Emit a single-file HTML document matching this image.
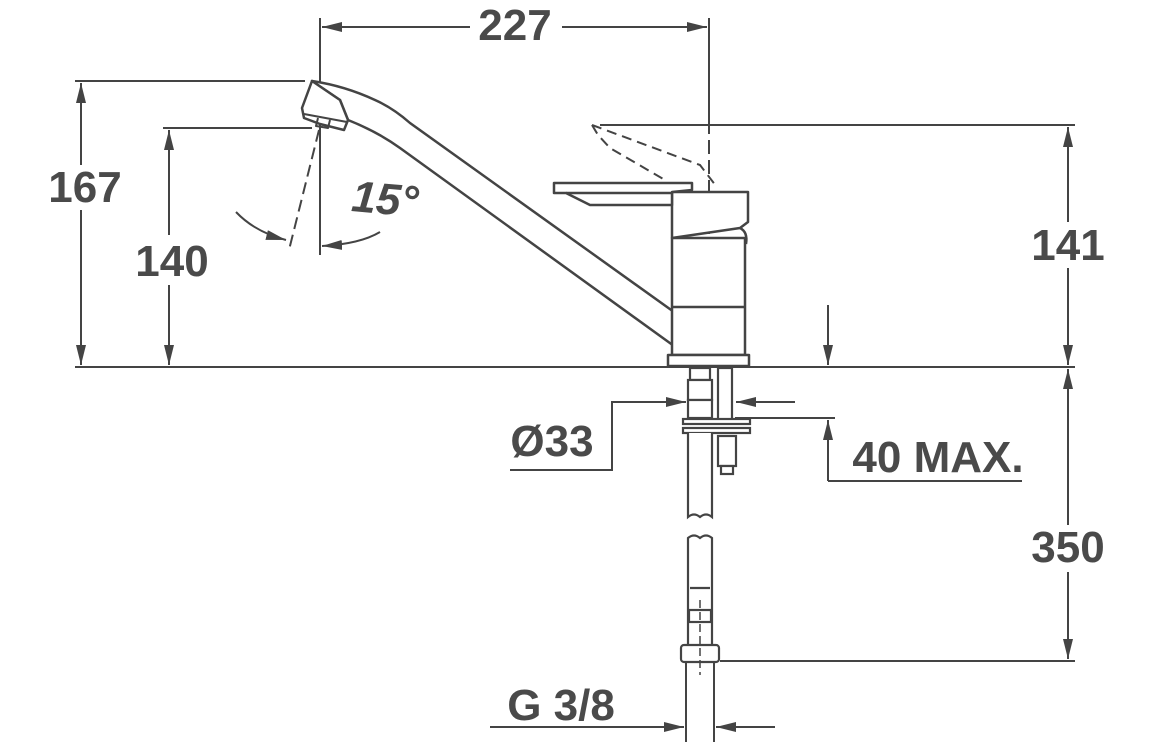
<!DOCTYPE html>
<html><head><meta charset="utf-8"><style>
html,body{margin:0;padding:0;background:#fff;}
svg{display:block}
text{font-family:"Liberation Sans Narrow","Liberation Sans",sans-serif;font-weight:bold;fill:#4a4a4a;font-size:44px;}
</style></head><body>
<svg width="1156" height="742" viewBox="0 0 1156 742" xmlns="http://www.w3.org/2000/svg">
<defs>
<marker id="a" viewBox="0 0 20 10" refX="20" refY="5" markerWidth="20" markerHeight="10" markerUnits="userSpaceOnUse" orient="auto"><path d="M0,0 L20,5 L0,10 z" fill="#444"/></marker>
</defs>
<g stroke="#444" stroke-width="2" fill="none">
<line x1="75" y1="367" x2="1075" y2="367"/>
<line x1="320" y1="18" x2="320" y2="255"/>
<line x1="709" y1="18" x2="709" y2="120"/>
<line x1="709" y1="120" x2="709" y2="350" stroke-dasharray="14,6"/>
<line x1="470" y1="27" x2="322" y2="27" marker-end="url(#a)"/>
<line x1="562" y1="27" x2="707" y2="27" marker-end="url(#a)"/>
<line x1="75" y1="81" x2="305" y2="81"/>
<line x1="81" y1="165" x2="81" y2="83" marker-end="url(#a)"/>
<line x1="81" y1="210" x2="81" y2="365" marker-end="url(#a)"/>
<line x1="163" y1="128" x2="312" y2="128"/>
<line x1="169" y1="235" x2="169" y2="130" marker-end="url(#a)"/>
<line x1="169" y1="285" x2="169" y2="365" marker-end="url(#a)"/>
<line x1="600" y1="125" x2="1075" y2="125"/>
<line x1="1068" y1="222" x2="1068" y2="127" marker-end="url(#a)"/>
<line x1="1068" y1="268" x2="1068" y2="365" marker-end="url(#a)"/>
<line x1="720" y1="661" x2="1075" y2="661"/>
<line x1="1068" y1="525" x2="1068" y2="369" marker-end="url(#a)"/>
<line x1="1068" y1="572" x2="1068" y2="659" marker-end="url(#a)"/>
<polyline points="510,470 612,470 612,402 686,402" marker-end="url(#a)"/>
<line x1="795" y1="402" x2="736" y2="402" marker-end="url(#a)"/>
<line x1="828" y1="305" x2="828" y2="365" marker-end="url(#a)"/>
<line x1="828" y1="481" x2="828" y2="420" marker-end="url(#a)"/>
<line x1="735" y1="418" x2="835" y2="418"/>
<line x1="828" y1="481" x2="1022" y2="481"/>
<line x1="686" y1="662" x2="686" y2="742"/>
<line x1="714" y1="662" x2="714" y2="742"/>
<line x1="490" y1="727" x2="684" y2="727" marker-end="url(#a)"/>
<line x1="775" y1="727" x2="716" y2="727" marker-end="url(#a)"/>
<line x1="319" y1="130" x2="289" y2="250" stroke-dasharray="12,6"/>
<line x1="313" y1="95" x2="309" y2="112" stroke-dasharray="8,5"/>
<path d="M236,212 Q255,232 286,240" marker-end="url(#a)"/>
<path d="M380,232 Q360,244 322,246" marker-end="url(#a)"/>
</g>
<g stroke="#444" stroke-width="2.5" fill="#fff" stroke-linejoin="round">
<path d="M312,81 Q345,86 375,100 Q393,108 410,123 L674,312 Q680,330 674,346 L400,148 Q378,132 348,120 L340,100 Z" />
<path d="M312,81 L302,108 L304,118 L320,124 L344,130 L348,120 L340,100 Z"/>
<path d="M304,114 L347,122 M318,118 L316,126 L328,128 L330,120" fill="none" stroke-width="2"/>
<path d="M672,238 L745,238 L745,355 L672,355 Z"/>
<line x1="672" y1="307" x2="745" y2="307"/>
<path d="M668,355 L749,355 L749,366 L668,366 Z"/>
<path d="M672,192 L748,192 L748,222 L740,228 L672,238 Z"/>
<path d="M740,228 Q748,232 746,244" fill="none"/>
<path d="M554,183 L692,183 L692,190 L672,192 L672,205 L590,205 L566,193 L554,193 Z"/>
<line x1="566" y1="193" x2="672" y2="193"/>
</g>
<g stroke="#444" stroke-width="2" fill="none" stroke-dasharray="10,6">
<path d="M592,125 L598,135 L610,148 L665,180"/>
<path d="M592,125 L700,165 L716,186"/>
</g>
<g stroke="#444" stroke-width="2.2" fill="#fff">
<rect x="690" y="368" width="20" height="12"/>
<rect x="688" y="380" width="24" height="20"/>
<rect x="688" y="400" width="24" height="18"/>
<rect x="718" y="368" width="14" height="52"/>
<rect x="683" y="419" width="67" height="5"/>
<rect x="683" y="428" width="67" height="5"/>
<rect x="718" y="436" width="18" height="30"/>
<rect x="721" y="466" width="12" height="8"/>
<path d="M688,433 L688,517 Q694,512 700,517 Q706,512 712,517 L712,433"/>
<path d="M688,660 L688,538 Q694,533 700,538 Q706,533 712,538 L712,660"/>
<line x1="690" y1="588" x2="710" y2="588"/>
<rect x="689" y="610" width="22" height="12"/>
<rect x="681" y="645" width="38" height="17" rx="3"/>
</g>
<line x1="700" y1="600" x2="700" y2="675" stroke="#444" stroke-width="1.5" stroke-dasharray="8,4"/>
<text x="515" y="40" text-anchor="middle">227</text>
<text x="85" y="202" text-anchor="middle">167</text>
<text x="172" y="276" text-anchor="middle">140</text>
<text x="1068" y="260" text-anchor="middle">141</text>
<text x="1068" y="562" text-anchor="middle">350</text>
<text x="552" y="456" text-anchor="middle">Ø33</text>
<text x="938" y="472" text-anchor="middle">40 MAX.</text>
<text x="561" y="720" text-anchor="middle">G 3/8</text>
<text x="385" y="214" text-anchor="middle" font-style="italic" transform="rotate(5 385 200)">15°</text>
</svg>
</body></html>
